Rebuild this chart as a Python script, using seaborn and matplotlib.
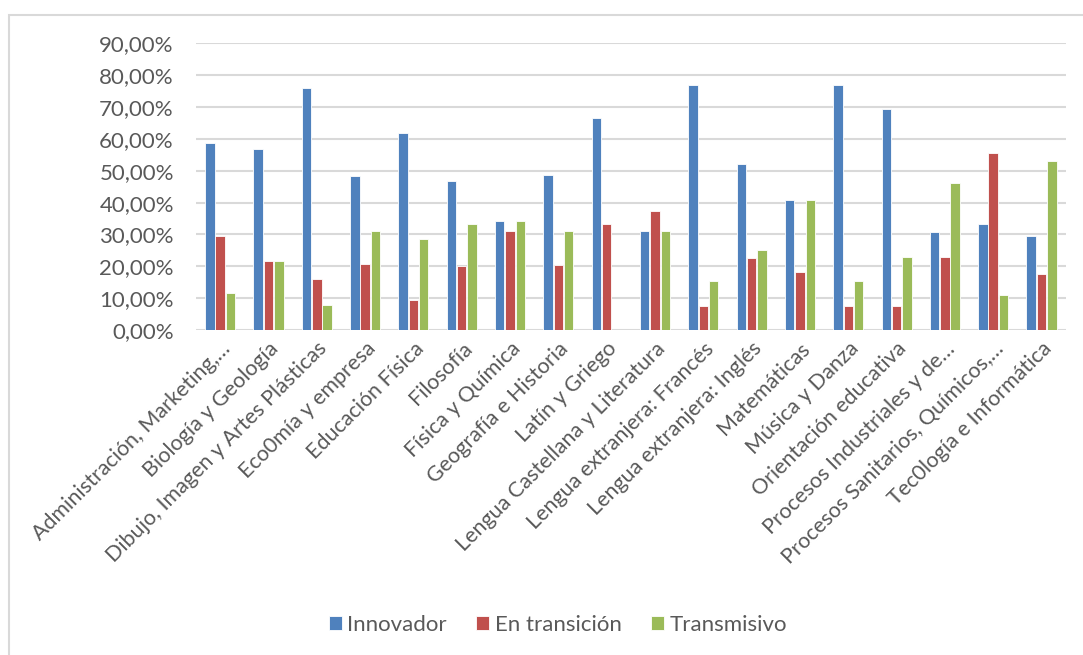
import matplotlib
matplotlib.use("Agg")
import matplotlib.pyplot as plt
from matplotlib.ticker import FuncFormatter, MultipleLocator
from matplotlib.patches import Rectangle
import pandas as pd
import seaborn as sns

categories = [
    "Administración, Marketing,…",
    "Biología y Geología",
    "Dibujo, Imagen y Artes Plásticas",
    "Eco0mía y empresa",
    "Educación Física",
    "Filosofía",
    "Física y Química",
    "Geografía e Historia",
    "Latín y Griego",
    "Lengua Castellana y Literatura",
    "Lengua extranjera: Francés",
    "Lengua extranjera: Inglés",
    "Matemáticas",
    "Música y Danza",
    "Orientación educativa",
    "Procesos Industriales y de…",
    "Procesos Sanitarios, Químicos,…",
    "Tec0logía e Informática",
]

innovador = [58.82, 56.76, 76.00, 48.28, 61.90, 46.67, 34.38, 48.57, 66.67,
             31.25, 76.92, 52.17, 40.91, 76.92, 69.23, 30.77, 33.33, 29.41]
en_transicion = [29.41, 21.62, 16.00, 20.69, 9.52, 20.00, 31.25, 20.29, 33.33,
                 37.50, 7.69, 22.61, 18.18, 7.69, 7.69, 23.08, 55.56, 17.65]
transmisivo = [11.76, 21.62, 8.00, 31.03, 28.57, 33.33, 34.38, 31.14, 0.00,
               31.25, 15.38, 25.00, 40.91, 15.38, 23.08, 46.15, 11.11, 52.94]

series_names = ["Innovador", "En transición", "Transmisivo"]
palette = ["#4F81BD", "#C0504D", "#9BBB59"]

df = pd.DataFrame({
    "Asignatura": categories * 3,
    "Serie": [series_names[0]] * 18 + [series_names[1]] * 18 + [series_names[2]] * 18,
    "Valor": [v / 100 for v in innovador + en_transicion + transmisivo],
})

sns.set_theme(style="white")
plt.rcParams["font.family"] = ["Lato", "DejaVu Sans"]

fig = plt.figure(figsize=(10.83, 6.55), dpi=100)
ax = fig.add_axes([0.181, 0.496, 0.803, 0.438])

sns.barplot(data=df, x="Asignatura", y="Valor", hue="Serie", order=categories,
            hue_order=series_names, palette=palette, width=0.64, gap=0.08,
            edgecolor="white", linewidth=0.6, saturation=1, ax=ax, legend=True)

ax.set_ylim(0, 0.9)
ax.set_xlim(-0.5, len(categories) - 0.5)
ax.yaxis.set_major_locator(MultipleLocator(0.1))
ax.yaxis.set_major_formatter(FuncFormatter(lambda v, _: f"{v*100:.2f}%".replace(".", ",")))
ax.grid(axis="y", color="#d9d9d9", linewidth=1.5)
ax.set_axisbelow(True)
for s in ax.spines.values():
    s.set_visible(False)
ax.set_xlabel("")
ax.set_ylabel("")
ax.tick_params(axis="y", length=0, pad=16, labelsize=16, labelcolor="#595959")
ax.tick_params(axis="x", length=0, pad=6, labelsize=15.5, labelcolor="#595959")
for lbl in ax.get_xticklabels():
    lbl.set_rotation(45)
    lbl.set_ha("right")
    lbl.set_rotation_mode("anchor")

handles, labels = ax.get_legend_handles_labels()
ax.legend_.remove()
fig.legend(handles, labels, loc="center", bbox_to_anchor=(0.515, 0.046), ncol=3,
           frameon=False, fontsize=16, labelcolor="#595959", handlelength=0.6,
           handleheight=0.6, handletextpad=0.25, columnspacing=1.3)

fig.patches.append(Rectangle((8.5 / 1083, -0.1), 1.2, 1 - 14.5 / 655 + 0.1,
                             transform=fig.transFigure, fill=False,
                             edgecolor="#d9d9d9", linewidth=1.5))

fig.savefig("out.png", dpi=100, facecolor="white")
